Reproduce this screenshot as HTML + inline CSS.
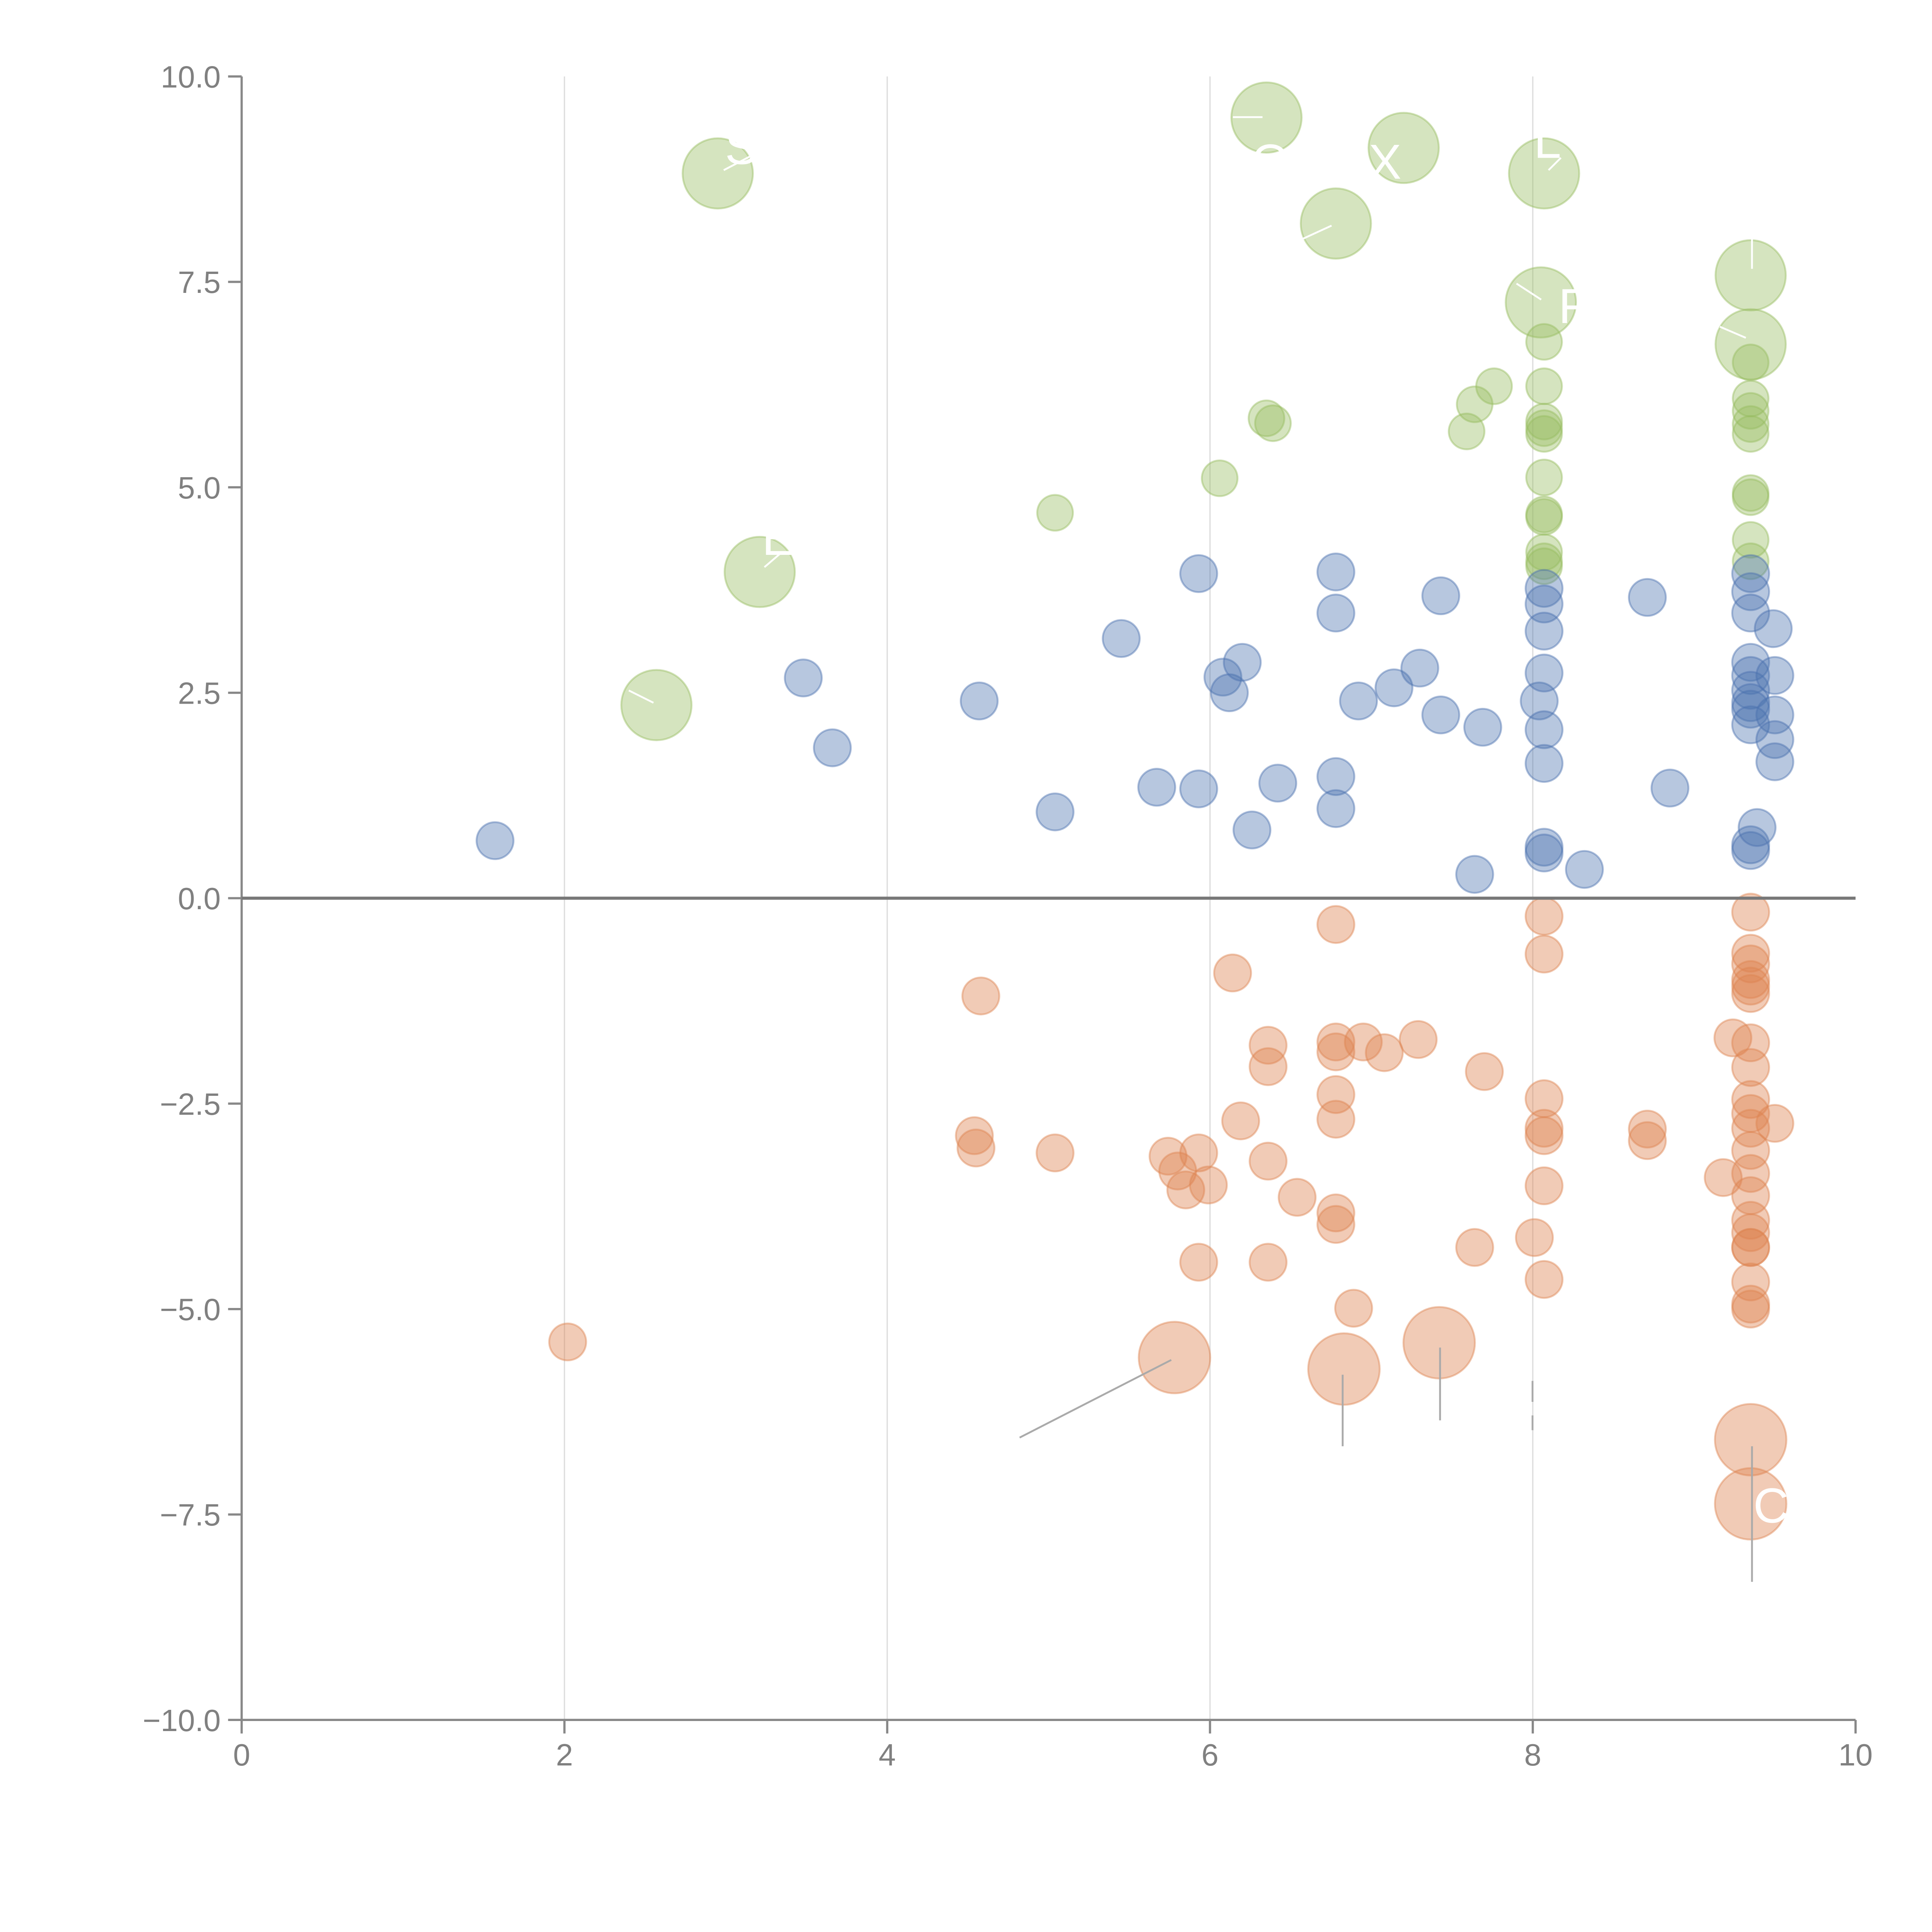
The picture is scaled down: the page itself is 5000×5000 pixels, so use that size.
<!DOCTYPE html>
<html><head><meta charset="utf-8"><style>html,body{margin:0;padding:0;background:#fff}svg{display:block}</style></head>
<body>
<svg id="chart" width="5000" height="5000" viewBox="0 0 1567 1567" xmlns="http://www.w3.org/2000/svg" font-family="Liberation Sans, Arial, sans-serif">
<g id="grid"></g>
<g id="marks"></g>
<g id="annot"></g>
<g id="axes"></g>
</svg>
<script>
const xTicks=[0,2,4,6,8,10];
const yTicks=[10,7.5,5,2.5,0,-2.5,-5,-7.5,-10];
const yTickLabels=["10.0","7.5","5.0","2.5","0.0","\u22122.5","\u22125.0","\u22127.5","\u221210.0"];
const blueX=[1.57,3.48,3.66,4.57,5.04,5.45,5.67,5.93,5.93,6.08,6.12,6.20,6.26,6.42,6.78,6.78,6.78,6.78,6.92,7.14,7.30,7.43,7.43,7.64,7.69,8.04,8.07,8.07,8.07,8.07,8.07,8.07,8.07,8.07,8.32,8.71,8.85,9.35,9.35,9.35,9.35,9.35,9.35,9.35,9.35,9.35,9.35,9.35,9.39,9.49,9.50,9.50,9.50,9.50];
const blueY=[0.70,2.68,1.83,2.40,1.05,3.16,1.35,3.95,1.33,2.69,2.50,2.87,0.83,1.40,3.97,3.47,1.48,1.09,2.40,2.56,2.80,3.68,2.23,0.29,2.08,2.40,3.77,3.58,3.25,2.74,2.05,1.64,0.62,0.55,0.35,3.66,1.34,3.95,3.73,3.47,2.87,2.71,2.53,2.38,2.30,2.11,0.65,0.58,0.86,3.28,2.71,2.23,1.93,1.66];
const orangeX=[2.02,4.58,4.54,4.55,5.04,5.74,5.80,5.85,5.93,5.99,5.93,6.14,6.19,6.36,6.36,6.36,6.36,6.54,6.78,6.78,6.78,6.78,6.78,6.78,6.78,6.95,7.08,7.29,6.89,7.64,7.70,8.01,8.07,8.07,8.07,8.07,8.07,8.07,8.07,8.71,8.71,9.18,9.24,9.35,9.35,9.35,9.35,9.35,9.35,9.35,9.35,9.35,9.35,9.35,9.35,9.35,9.35,9.35,9.35,9.35,9.35,9.35,9.35,9.35,9.50];
const orangeY=[-5.40,-1.19,-2.89,-3.04,-3.10,-3.14,-3.32,-3.55,-3.10,-3.49,-4.43,-0.91,-2.71,-1.79,-2.05,-3.20,-4.43,-3.64,-0.32,-1.75,-1.87,-2.39,-2.69,-3.83,-3.97,-1.75,-1.88,-1.72,-4.99,-4.25,-2.11,-4.13,-0.22,-0.68,-2.44,-2.80,-2.89,-3.50,-4.64,-2.81,-2.95,-3.40,-1.70,-0.17,-0.67,-0.80,-0.99,-1.07,-1.16,-1.76,-2.06,-2.45,-2.62,-2.80,-3.07,-3.35,-3.62,-3.92,-4.07,-4.25,-4.25,-4.67,-4.94,-5.00,-2.74];
const orangeBigX=[5.78,6.83,7.42,9.35,9.35];
const orangeBigY=[-5.59,-5.73,-5.41,-6.59,-7.37];
const greenX=[5.04,6.06,6.35,6.39,7.59,7.64,7.76,8.07,8.07,8.07,8.07,8.07,8.07,8.07,8.07,8.07,8.07,8.07,9.35,9.35,9.35,9.35,9.35,9.35,9.35,9.35,9.35];
const greenY=[4.69,5.11,5.84,5.78,5.68,6.01,6.23,6.77,6.23,5.80,5.72,5.65,5.12,4.67,4.64,4.21,4.10,4.04,6.52,6.08,5.93,5.77,5.65,4.93,4.88,4.36,4.10];
const greenBigX=[2.95,3.21,2.57,6.35,7.20,6.78,8.07,8.05,9.35,9.35];
const greenBigY=[8.82,3.97,2.35,9.50,9.13,8.21,8.82,7.25,7.58,6.74];

const X0=196,X1=1505,Y0=1395,Y1=62;
const sx=v=>X0+(v-0)/(10-0)*(X1-X0);
const sy=v=>Y0-(v+10)/20*(Y0-Y1);
const NS="http://www.w3.org/2000/svg";
function mk(tag,attrs,parent){const e=document.createElementNS(NS,tag);for(const k in attrs)e.setAttribute(k,attrs[k]);parent.appendChild(e);return e;}
const grid=document.getElementById('grid'),marks=document.getElementById('marks'),annot=document.getElementById('annot'),axes=document.getElementById('axes');

[2,4,6,8].forEach(v=>{const l=mk('line',{x1:sx(v),x2:sx(v),y1:Y1,y2:Y0,stroke:'#dcdcdc','stroke-width':1},grid);

});

function series(xs,ys,r,fill,stroke,name){for(let i=0;i<xs.length;i++){const c=mk('circle',{cx:sx(xs[i]),cy:sy(ys[i]),r:r,fill:fill,stroke:stroke,'stroke-width':1.5},marks);

}}
const B='rgba(76,114,176,0.4)',BS='rgba(76,114,176,0.45)';
const O='rgba(221,132,82,0.42)',OS='rgba(221,132,82,0.45)';
const G='rgba(150,188,95,0.4)',GS='rgba(150,188,95,0.45)';
series(greenX,greenY,14.5,G,GS,'green-bubble');
series(greenBigX,greenBigY,28.5,G,GS,'green-large-bubble');
series(blueX,blueY,15,B,BS,'blue-bubble');
series(orangeX,orangeY,15,O,OS,'orange-bubble');
series(orangeBigX,orangeBigY,29,O,OS,'orange-large-bubble');

[[827,1166,950,1103],[1089,1115,1089,1173],[1168,1093,1168,1152],[1421,1173,1421,1283],[1243,1120,1243,1137],[1243,1148,1243,1160]].forEach(a=>{const l=mk('line',{x1:a[0],y1:a[1],x2:a[2],y2:a[3],stroke:'#aaa','stroke-width':1.5},annot);

});
[[587,138,610,126],[620,460,634,448],[510,560,530,570],[1000,95,1024,95],[1056,194,1080,183],[1230,230,1250,243],[1395,265,1416,274],[1421,190,1421,218],[1256,138,1266,128]].forEach(a=>{const l=mk('line',{x1:a[0],y1:a[1],x2:a[2],y2:a[3],stroke:'#fff','stroke-width':1.5},annot);

});
[['C',1422,1235],['F',1264,262],['L',1244,128],['E',618,450],['S',588,133],['X',1110,145],['O',1015,145]].forEach(t=>{const e=mk('text',{x:t[1],y:t[2],fill:'#fff','font-size':40},annot);e.textContent=t[0];

});

const ax=mk('line',{x1:X0,x2:X1,y1:Y0,y2:Y0,stroke:'#888','stroke-width':1.8},axes);


const ay=mk('line',{x1:X0,x2:X0,y1:Y1,y2:Y0,stroke:'#888','stroke-width':1.8},axes);


const z=mk('line',{x1:X0,x2:X1,y1:sy(0),y2:sy(0),stroke:'#777','stroke-width':2.5},axes);


xTicks.forEach(v=>{const t=mk('line',{x1:sx(v),x2:sx(v),y1:Y0,y2:Y0+11,stroke:'#888','stroke-width':1.8},axes);


const l=mk('text',{x:sx(v),y:Y0+37,'text-anchor':'middle',fill:'#808080','font-size':25},axes);l.textContent=v;

});
yTicks.forEach((v,i)=>{const t=mk('line',{x1:X0-11,x2:X0,y1:sy(v),y2:sy(v),stroke:'#888','stroke-width':1.8},axes);


const l=mk('text',{x:X0-17,y:sy(v)+9,'text-anchor':'end',fill:'#808080','font-size':25},axes);l.textContent=yTickLabels[i];

});
</script>
</body></html>
